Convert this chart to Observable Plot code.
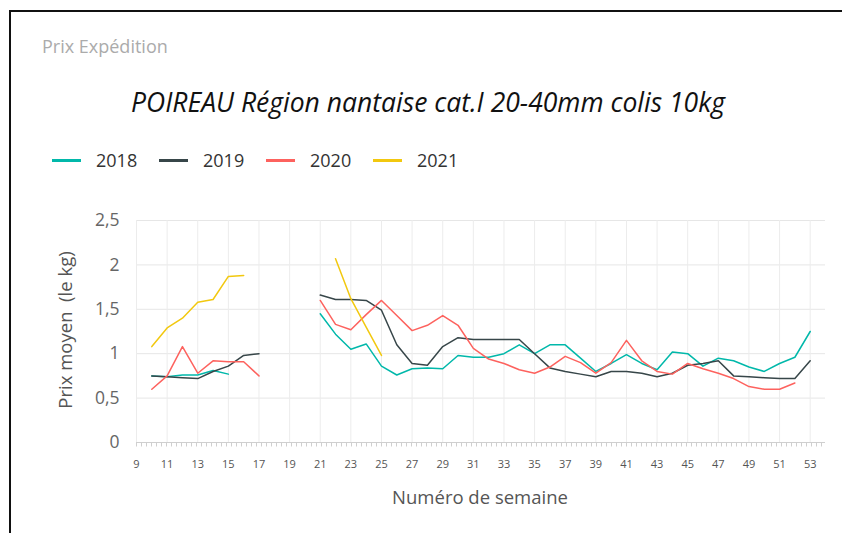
<!DOCTYPE html>
<html>
<head>
<meta charset="utf-8">
<script src="https://cdn.jsdelivr.net/npm/d3@7"></script>
<script src="https://cdn.jsdelivr.net/npm/@observablehq/plot@0.6"></script>
<style>
  html, body { margin: 0; padding: 0; background: #fff; }
  #wrap { position: relative; width: 842px; height: 533px; overflow: hidden; font-family: "Open Sans", "Noto Sans", sans-serif; }
  #frameTop { position: absolute; left: 9px; top: 10px; width: 840px; height: 2px; background: #111; }
  #frameLeft { position: absolute; left: 9px; top: 10px; width: 2px; height: 530px; background: #111; }
  #sub { position: absolute; left: 42px; top: 46px; transform: translateY(-50%); font-size: 18px; color: #ababab; white-space: nowrap; }
  #title { position: absolute; left: 428px; top: 102px; transform: translate(-50%, -50%); font-style: italic; font-size: 26.5px; color: #111; white-space: nowrap; }
  #legend { position: absolute; left: 52px; top: 160px; transform: translateY(-50%); display: flex; align-items: center; font-size: 18px; color: #333; }
  .item { display: flex; align-items: center; width: 107px; }
  .sw { width: 29px; height: 3px; margin-right: 15px; }
  #ylab { position: absolute; left: 64px; top: 330px; transform: translate(-50%, -50%) rotate(-90deg); white-space: pre; font-size: 18.5px; color: #555; }
  #xlab { position: absolute; left: 480px; top: 496px; transform: translate(-50%, -50%); font-size: 18.5px; color: #555; white-space: nowrap; }
  #chart { position: absolute; left: 0; top: 200px; }
</style>
</head>
<body>
<div id="wrap">
  <div id="frameTop"></div>
  <div id="frameLeft"></div>
  <div id="sub">Prix Expédition</div>
  <div id="title">POIREAU Région nantaise cat.I 20-40mm colis 10kg</div>
  <div id="legend"></div>
  <div id="ylab">Prix moyen  (le kg)</div>
  <div id="xlab">Numéro de semaine</div>
  <div id="chart"></div>
</div>
<script>
const years = ["2018", "2019", "2020", "2021"];
const colors = ["#01B8AA", "#374649", "#FD625E", "#F2C80F"];
const weeks = [10, 11, 12, 13, 14, 15, 16, 17, 18, 19, 20, 21, 22, 23, 24, 25, 26, 27, 28, 29, 30, 31,
               32, 33, 34, 35, 36, 37, 38, 39, 40, 41, 42, 43, 44, 45, 46, 47, 48, 49, 50, 51, 52, 53];
const xTicks = [9, 11, 13, 15, 17, 19, 21, 23, 25, 27, 29, 31, 33, 35, 37, 39, 41, 43, 45, 47, 49, 51, 53];
const yTicks = [0, 0.5, 1, 1.5, 2, 2.5];

const v2018 = [0.75, 0.74, 0.76, 0.76, 0.81, 0.77, null, null, null, null, null,
  1.45, 1.22, 1.05, 1.11, 0.86, 0.76, 0.83, 0.84, 0.83, 0.98, 0.96,
  0.96, 1.00, 1.10, 1.00, 1.10, 1.10, 0.95, 0.80, 0.89, 0.99, 0.89, 0.82, 1.02, 1.00, 0.86, 0.95, 0.92, 0.85, 0.80, 0.89, 0.96, 1.25];
const v2019 = [0.75, 0.74, 0.73, 0.72, 0.80, 0.86, 0.98, 1.00, null, null, null,
  1.66, 1.61, 1.61, 1.60, 1.49, 1.10, 0.89, 0.87, 1.08, 1.18, 1.16,
  1.16, 1.16, 1.16, 1.00, 0.84, 0.80, 0.77, 0.74, 0.80, 0.80, 0.78, 0.74, 0.78, 0.87, 0.89, 0.92, 0.75, 0.74, 0.73, 0.72, 0.72, 0.92];
const v2020 = [0.60, 0.75, 1.08, 0.78, 0.92, 0.91, 0.91, 0.75, null, null, null,
  1.60, 1.33, 1.27, 1.44, 1.60, 1.43, 1.26, 1.32, 1.43, 1.32, 1.06,
  0.94, 0.89, 0.82, 0.78, 0.85, 0.97, 0.90, 0.78, 0.90, 1.15, 0.92, 0.80, 0.77, 0.89, 0.83, 0.78, 0.72, 0.63, 0.60, 0.60, 0.67, null];
const v2021 = [1.08, 1.29, 1.40, 1.58, 1.61, 1.87, 1.88, null, null, null, null,
  null, 2.07, 1.62, 1.30, 0.98, null, null, null, null, null, null,
  null, null, null, null, null, null, null, null, null, null, null, null, null, null, null, null, null, null, null, null, null, null];

const series = [v2018, v2019, v2020, v2021];
const rows = [];
series.forEach((vals, i) => {
  weeks.forEach((w, j) => rows.push({year: years[i], week: w, value: vals[j]}));
});

// legend
const leg = document.getElementById("legend");
years.forEach((y, i) => {
  const it = document.createElement("div");
  it.className = "item";
  it.innerHTML = `<span class="sw" style="background:${colors[i]}"></span><span>${y}</span>`;
  leg.appendChild(it);
});

const chart = Plot.plot({
  width: 842,
  height: 333,
  marginTop: 20,
  marginBottom: 91,
  marginLeft: 136,
  marginRight: 17,
  style: {fontFamily: "'Open Sans', 'Noto Sans', sans-serif", background: "transparent"},
  x: {domain: [9, 54]},
  y: {domain: [0, 2.5]},
  color: {domain: years, range: colors},
  marks: [
    Plot.gridY(yTicks.filter(d => d > 0), {stroke: "#e6e6e6", strokeOpacity: 1}),
    Plot.gridX(xTicks, {stroke: "#ececec", strokeOpacity: 1}),
    Plot.ruleY([0], {stroke: "#cfcfcf"}),
    Plot.ruleY([0], {dy: 2, stroke: "#cfcfcf", strokeWidth: 4, strokeDasharray: "1,4"}),
    Plot.axisY(yTicks, {tickSize: 0, tickPadding: 17, fontSize: 17.5, fill: "#666", label: null,
      tickFormat: d => String(d).replace(".", ",")}),
    Plot.axisX(xTicks, {tickSize: 0, tickPadding: 18, fontSize: 11, fill: "#555", label: null}),
    Plot.line(rows, {x: "week", y: "value", z: "year", stroke: "year", strokeWidth: 1.5, curve: "linear"})
  ]
});
document.getElementById("chart").appendChild(chart);
</script>
</body>
</html>
